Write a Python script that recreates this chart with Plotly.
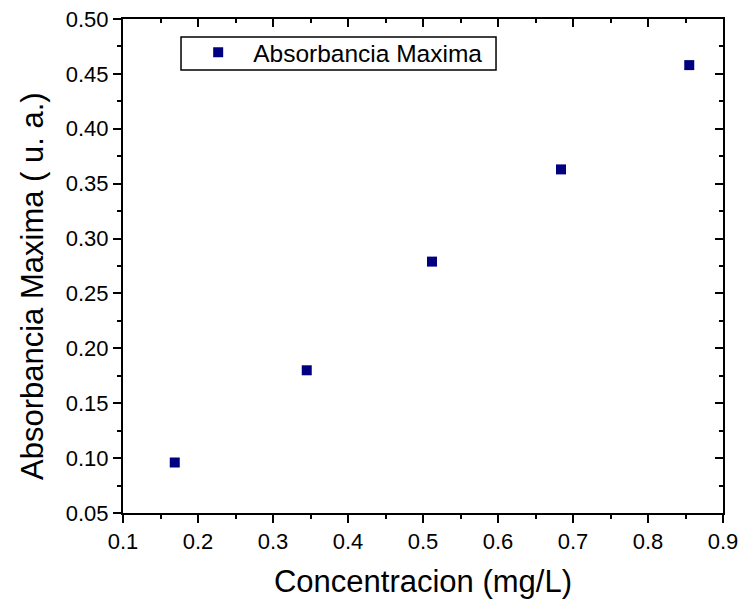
import plotly.graph_objects as go

conc = [0.169, 0.345, 0.512, 0.684, 0.855]
absorb = [0.096, 0.180, 0.279, 0.363, 0.458]
series_name = "Absorbancia Maxima"
x_title = "Concentracion (mg/L)"
y_title = "Absorbancia Maxima ( u. a.)"

FONT = "Liberation Sans, Arial, sans-serif"

fig = go.Figure()
fig.add_trace(go.Scatter(
    x=conc, y=absorb, mode="markers", name=series_name,
    marker=dict(symbol="square", size=10, color="#000080"),
))
# invisible trace for mirrored axes
fig.add_trace(go.Scatter(x=conc, y=absorb, xaxis="x2", yaxis="y2",
                         mode="markers", marker=dict(opacity=0),
                         showlegend=False, hoverinfo="skip"))

axis_common = dict(showline=True, linecolor="black", linewidth=2,
                   showgrid=False, zeroline=False, automargin=False,
                   tickfont=dict(family=FONT, size=22, color="black"),
                   tickcolor="black", tickwidth=2, ticklen=8)

fig.update_layout(
    width=742, height=603,
    margin=dict(l=123, r=19, t=19, b=90),
    paper_bgcolor="white", plot_bgcolor="white",
    font=dict(family=FONT, color="black"),
    xaxis=dict(range=[0.1, 0.9], dtick=0.1, tick0=0.1, ticks="outside",
               minor=dict(ticks="outside", dtick=0.05, ticklen=4, tickcolor="black", tickwidth=2),
               title=dict(text=x_title, font=dict(family=FONT, size=31), standoff=17),
               **axis_common),
    yaxis=dict(range=[0.05, 0.5], dtick=0.05, tick0=0.05, ticks="outside",
               tickformat=".2f",
               minor=dict(ticks="outside", dtick=0.025, ticklen=4, tickcolor="black", tickwidth=2),
               **axis_common),
    xaxis2=dict(range=[0.1, 0.9], dtick=0.1, tick0=0.1, ticks="inside",
                overlaying="x", side="top", showticklabels=False,
                minor=dict(ticks="inside", dtick=0.05, ticklen=4, tickcolor="black", tickwidth=2),
                **axis_common),
    yaxis2=dict(range=[0.05, 0.5], dtick=0.05, tick0=0.05, ticks="inside",
                overlaying="y", side="right", showticklabels=False,
                minor=dict(ticks="inside", dtick=0.025, ticklen=4, tickcolor="black", tickwidth=2),
                **axis_common),
    legend=dict(x=0.1003, y=0.978, xanchor="left", yanchor="top",
                borderwidth=0, bgcolor="rgba(0,0,0,0)",
                itemwidth=60,
                font=dict(family=FONT, size=24.5, color="black")),
    showlegend=True,
    shapes=[dict(type="rect", xref="paper", yref="paper",
                 x0=0.0967, x1=0.6217, y0=0.8968, y1=0.9636,
                 line=dict(color="black", width=1.5), fillcolor="rgba(0,0,0,0)",
                 layer="below")],
    annotations=[dict(text=y_title, xref="paper", yref="paper",
                      x=-0.1517, y=0.4595, xanchor="center", yanchor="middle",
                      textangle=-90, showarrow=False,
                      font=dict(family=FONT, size=31, color="black"))],
)

fig.write_html("out.html")
